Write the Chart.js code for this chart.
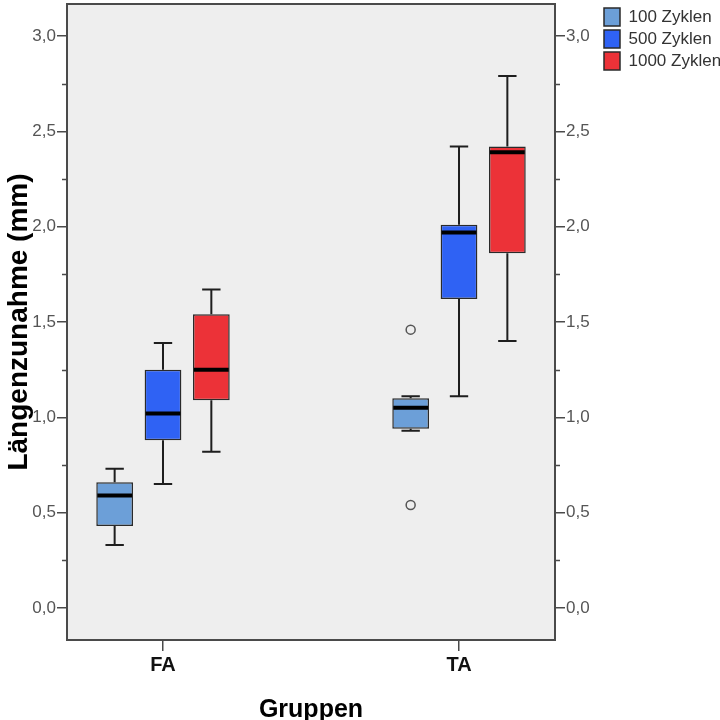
<!DOCTYPE html>
<html>
<head>
<meta charset="utf-8">
<script src="https://cdn.jsdelivr.net/npm/chart.js@4"></script>
<style>
    html, body { margin: 0; padding: 0; background: #ffffff; }
    #chart-wrap { width: 720px; height: 720px; }
</style>
</head>
<body>
<div id="chart-wrap"><canvas id="length-boxplot" width="720" height="720"></canvas></div>
<script>
// groups on the x axis and the three cycle series
const groups = ['FA', 'TA'];
const groupPos = [0, 1];
const seriesNames = ['100 Zyklen', '500 Zyklen', '1000 Zyklen'];
const seriesColors = ['#6c9fd8', '#2f62f4', '#ec3238'];

// box plot values per series, one entry per group (FA, TA)
const whiskerLow = [[0.33, 0.93], [0.65, 1.11], [0.82, 1.40]];
const q1 = [[0.43, 0.94], [0.88, 1.62], [1.09, 1.86]];
const median = [[0.59, 1.05], [1.02, 1.97], [1.25, 2.39]];
const q3 = [[0.66, 1.10], [1.25, 2.01], [1.54, 2.42]];
const whiskerHigh = [[0.73, 1.11], [1.39, 2.42], [1.67, 2.79]];
const outliers = [[[], [0.54, 1.46]], [[], []], [[], []]];

const yTicks = [0, 0.5, 1, 1.5, 2, 2.5, 3];
const yMinorTicks = [0.25, 0.75, 1.25, 1.75, 2.25, 2.75];

const boxplotHandler = function () {
    const _this = this;

    this.initialize = function () {
        const ctx = document.getElementById('length-boxplot');
        new Chart(ctx, {
            type: 'bar',
            data: { datasets: _this.buildDatasets() },
            options: _this.buildOptions(),
            plugins: [_this.plotAreaPlugin(), _this.whiskerPlugin()]
        });
    };

    this.buildDatasets = function () {
        return seriesNames.map(function (name, s) {
            return {
                label: name,
                data: groupPos.map(function (x, g) {
                    return { x: x, y: [q1[s][g], q3[s][g]] };
                }),
                backgroundColor: seriesColors[s],
                borderColor: '#2a2a2a',
                borderWidth: 1.5,
                borderSkipped: false,
                categoryPercentage: 0.49,
                barPercentage: 0.76
            };
        });
    };

    const fmt = function (v) {
        return v.toFixed(1).replace('.', ',');
    };

    const yAxis = function (position) {
        return {
            type: 'linear',
            position: position,
            min: -0.168,
            max: 3.168,
            afterBuildTicks: function (scale) {
                scale.ticks = yTicks.map(function (v) { return { value: v }; });
            },
            afterFit: function (scale) {
                if (position === 'left') scale.width = 67;
                else scale.width = 720 - 555 - (scale.chart.legend ? scale.chart.legend.width : 0);
                scale.paddingTop = 0;
                scale.paddingBottom = 0;
            },
            grid: { drawOnChartArea: false, drawTicks: true, tickLength: 10, color: '#4a4a4a', lineWidth: 1.5 },
            border: { display: false },
            ticks: {
                padding: 1,
                color: '#555555',
                font: { family: 'Liberation Sans, Arial', size: 17 },
                callback: function (v) { return fmt(v); }
            },
            title: position === 'left' ? {
                display: true,
                text: 'Längenzunahme (mm)',
                color: '#000000',
                padding: { top: 5, bottom: 0 },
                font: { family: 'Liberation Sans, Arial', size: 28, weight: 'bold', lineHeight: 1 }
            } : { display: false }
        };
    };

    this.buildOptions = function () {
        return {
            responsive: false,
            animation: false,
            devicePixelRatio: 1,
            layout: { padding: { top: 4, right: 0, bottom: 0, left: 0 } },
            plugins: {
                tooltip: { enabled: false },
                legend: {
                    position: 'right',
                    align: 'start',
                    labels: {
                        boxWidth: 16,
                        boxHeight: 18,
                        padding: 4,
                        color: '#333333',
                        font: { family: 'Liberation Sans, Arial', size: 17 }
                    }
                }
            },
            scales: {
                x: {
                    type: 'linear',
                    min: -0.3243,
                    max: 1.3243,
                    offset: false,
                    afterBuildTicks: function (scale) {
                        scale.ticks = groupPos.map(function (v) { return { value: v }; });
                    },
                    afterFit: function (scale) {
                        scale.height = 80;
                        scale.paddingLeft = 0;
                        scale.paddingRight = 0;
                    },
                    grid: { drawOnChartArea: false, drawTicks: true, tickLength: 11, color: '#4a4a4a', lineWidth: 1.5, offset: false },
                    border: { display: false },
                    ticks: {
                        padding: 2,
                        color: '#111111',
                        font: { family: 'Liberation Sans, Arial', size: 20, weight: 'bold' },
                        callback: function (v) { return groups[groupPos.indexOf(v)]; }
                    },
                    title: {
                        display: true,
                        text: 'Gruppen',
                        color: '#000000',
                        padding: { top: 0, bottom: 0 },
                        font: { family: 'Liberation Sans, Arial', size: 25, weight: 'bold', lineHeight: 0.8 }
                    }
                },
                y: yAxis('left'),
                y2: yAxis('right')
            }
        };
    };

    // grey plot background, frame and the small in-between ticks
    this.plotAreaPlugin = function () {
        return {
            id: 'plotArea',
            beforeDraw: function (chart) {
                const a = chart.chartArea;
                const c = chart.ctx;
                c.save();
                c.fillStyle = '#eeeeee';
                c.fillRect(a.left, a.top, a.right - a.left, a.bottom - a.top);
                c.restore();
            },
            afterDraw: function (chart) {
                const a = chart.chartArea;
                const c = chart.ctx;
                const y = chart.scales.y;
                c.save();
                c.strokeStyle = '#4a4a4a';
                c.lineWidth = 2;
                c.strokeRect(a.left, a.top, a.right - a.left, a.bottom - a.top);
                c.lineWidth = 1.5;
                yMinorTicks.forEach(function (v) {
                    const py = Math.round(y.getPixelForValue(v)) + 0.5;
                    c.beginPath();
                    c.moveTo(a.left - 5, py);
                    c.lineTo(a.left, py);
                    c.moveTo(a.right, py);
                    c.lineTo(a.right + 5, py);
                    c.stroke();
                });
                c.restore();
            }
        };
    };

    // whiskers, caps, medians and outlier circles on top of the bars
    this.whiskerPlugin = function () {
        return {
            id: 'whiskers',
            afterDatasetsDraw: function (chart) {
                const c = chart.ctx;
                const y = chart.scales.y;
                c.save();
                seriesNames.forEach(function (name, s) {
                    const meta = chart.getDatasetMeta(s);
                    meta.data.forEach(function (bar, g) {
                        const cx = bar.x;
                        const w = bar.width;
                        const yLow = y.getPixelForValue(whiskerLow[s][g]);
                        const yQ1 = y.getPixelForValue(q1[s][g]);
                        const yQ3 = y.getPixelForValue(q3[s][g]);
                        const yHigh = y.getPixelForValue(whiskerHigh[s][g]);
                        const yMed = y.getPixelForValue(median[s][g]);

                        c.strokeStyle = '#1e1e1e';
                        c.lineWidth = 2;
                        c.beginPath();
                        c.moveTo(cx, yQ1);
                        c.lineTo(cx, yLow);
                        c.moveTo(cx, yQ3);
                        c.lineTo(cx, yHigh);
                        c.moveTo(cx - w / 4, yLow);
                        c.lineTo(cx + w / 4, yLow);
                        c.moveTo(cx - w / 4, yHigh);
                        c.lineTo(cx + w / 4, yHigh);
                        c.stroke();

                        c.strokeStyle = '#000000';
                        c.lineWidth = 4;
                        c.beginPath();
                        c.moveTo(cx - w / 2 + 1, yMed);
                        c.lineTo(cx + w / 2 - 1, yMed);
                        c.stroke();

                        c.strokeStyle = '#555555';
                        c.lineWidth = 1.5;
                        outliers[s][g].forEach(function (v) {
                            c.beginPath();
                            c.arc(cx, y.getPixelForValue(v), 4.5, 0, Math.PI * 2);
                            c.stroke();
                        });
                    });
                });
                c.restore();
            }
        };
    };

    this.initialize();
};

document.addEventListener('DOMContentLoaded', function () {
    new boxplotHandler();
});
</script>
</body>
</html>
